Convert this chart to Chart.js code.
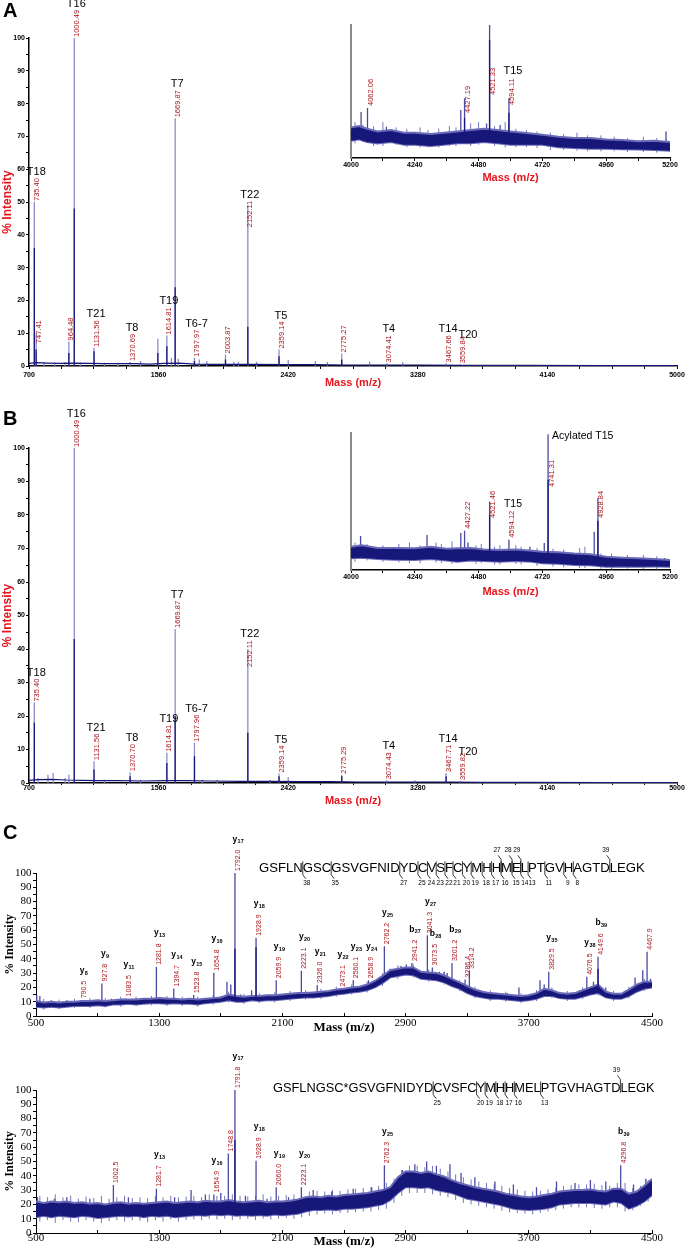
<!DOCTYPE html>
<html>
<head>
<meta charset="utf-8">
<script src="https://cdn.jsdelivr.net/npm/chart.js@4.4.1/dist/chart.umd.min.js"></script>
<style>
  body { margin: 0; background: #fff; }
  #page { position: relative; width: 687px; height: 1250px; overflow: hidden; background: #fff; }
  canvas, .lt { position: absolute; }
  .lt { font: bold 20px Arial, "Liberation Sans", sans-serif; line-height: 20px; }
</style>
</head>
<body>
<div id="page">
  <canvas id="cA" width="687" height="392" style="left:0;top:0"></canvas>
  <canvas id="cB" width="687" height="412" style="left:0;top:400px"></canvas>
  <canvas id="cC1" width="687" height="210" style="left:0;top:826px"></canvas>
  <canvas id="cC2" width="687" height="205" style="left:0;top:1045px"></canvas>
  <canvas id="cAi" width="357" height="180" style="left:330px;top:10px"></canvas>
  <canvas id="cBi" width="357" height="185" style="left:330px;top:415px"></canvas>
  <div class="lt" style="left:3px;top:0">A</div>
  <div class="lt" style="left:3px;top:408px">B</div>
  <div class="lt" style="left:3px;top:822px">C</div>
</div>
<script>
// ---- panel A, full range ----
var aMass = [735.40, 747.41, 800, 870, 940, 964.48, 1000.49, 1040, 1131.56, 1200, 1290, 1370.69, 1440, 1555, 1614.81, 1645, 1669.87, 1690, 1797.97, 1830, 1880, 2003.87, 2060, 2090, 2152.11, 2210, 2359.14, 2420, 2600, 2680, 2775.27, 2960, 3074.41, 3180, 3467.66, 3559.84];
var aTop  = [50, 10, 1.2, 1.0, 1.2, 7.5, 100, 1.0, 5.5, 1.0, 0.8, 1.2, 1.5, 8.3, 9.3, 2.5, 75.5, 2.2, 2.5, 2.0, 1.5, 3.5, 1.3, 1.3, 49, 1.3, 5, 1.8, 1.5, 1.3, 3.8, 1.4, 0.8, 1.2, 0.8, 0.5];
var aCore = [36, 5, 0, 0, 0, 4, 48, 0, 4.5, 0, 0, 0, 0, 4, 6, 0, 24, 0, 1.5, 0, 0, 2, 0, 0, 12, 0, 3, 0, 0, 0, 2, 0, 0, 0, 0, 0];
var aBaseM = [700, 750, 820, 900, 1000, 1100, 1200, 1300, 1400, 1500, 1600, 1700, 1800, 1900, 2000, 2200, 2400, 2600, 2800, 3000, 3300, 3600, 4000, 4500, 5000];
var aBaseV = [0.8, 1.0, 0.9, 0.8, 0.9, 0.8, 0.7, 0.7, 0.7, 0.6, 0.8, 0.9, 0.6, 0.5, 0.5, 0.5, 0.4, 0.4, 0.3, 0.3, 0.3, 0.2, 0.2, 0.1, 0.1];
var aLblMass = [735.40, 747.41, 964.48, 1000.49, 1131.56, 1370.69, 1614.81, 1669.87, 1797.97, 2003.87, 2152.11, 2359.14, 2775.27, 3074.41, 3467.66, 3559.84];
var aLblTag  = ['T18', '', '', 'T16', 'T21', 'T8', 'T19', 'T7', 'T6-7', '', 'T22', 'T5', '', 'T4', 'T14', 'T20'];

// ---- panel A, inset 4000-5200 ----
var aiMass = [4038, 4062.06, 4133, 4413, 4427.19, 4510, 4521.33, 4561, 4594.11, 5185];
var aiTop  = [34.6, 37.6, 23.5, 36, 45, 26, 100, 24.8, 45, 20];
var aiFoot = [16, 16, 15, 15, 15, 16, 16, 15, 15, 9];
var aiCore = [0, 0, 0, 0, 30, 0, 88.7, 0, 34, 0];
var aiBandM  = [4000, 4030, 4060, 4100, 4150, 4200, 4240, 4300, 4350, 4400, 4450, 4500, 4550, 4600, 4650, 4720, 4780, 4840, 4900, 4960, 5020, 5080, 5140, 5200];
var aiBandLo = [13, 14, 12, 11, 12, 10, 10, 9, 10, 11, 11, 12, 11, 10, 10, 10, 8, 7.5, 7, 7, 6.5, 6.3, 6, 5.5];
var aiBandHi = [23, 24, 22, 20, 21, 19, 19, 18, 19, 20, 21, 22, 21, 20, 19, 17.5, 16, 15, 15, 14, 13.5, 12.6, 13, 12];
var aiNoiseM  = [4015, 4045, 4085, 4120, 4170, 4210, 4260, 4290, 4330, 4370, 4395, 4450, 4480, 4540, 4580, 4620, 4660, 4700, 4750, 4800, 4850, 4890, 4940, 4990, 5040, 5100, 5150];
var aiNoiseLo = [11, 12, 9, 9, 10, 8, 8, 8, 8, 9, 9, 9, 10, 9, 8, 8, 8, 7.5, 6, 6, 5.5, 5, 5, 5, 4.5, 4.5, 4];
var aiNoiseHi = [27, 25, 24, 27, 23, 22, 23, 21, 22, 24, 23, 26, 27, 24, 27, 22, 21, 20, 19, 18, 19, 17, 17, 16, 15, 16, 15];
var aiLblMass = [4062.06, 4427.19, 4521.33, 4594.11];
var aiLblTag  = ['', '', '', 'T15'];

// ---- panel B, full range ----
var bMass = [735.40, 760, 826, 860, 940, 965, 1000.49, 1131.56, 1200, 1370.70, 1440, 1614.81, 1669.87, 1797.96, 1850, 1950, 2152.11, 2300, 2359.14, 2420, 2775.29, 3074.43, 3260, 3467.71, 3559.82];
var bTop  = [24, 1.5, 2.5, 3, 1.5, 2.5, 100, 6.5, 1, 3.2, 1, 9, 46, 12, 1, 1, 40, 1, 2.8, 1.8, 2.5, 0.8, 0.8, 3, 0.6];
var bCore = [18, 0, 0, 0, 0, 0, 43, 4, 0, 2, 0, 6, 20, 8, 0, 0, 15, 0, 2, 0, 2, 0, 0, 2, 0];
var bBaseM = [700, 760, 850, 950, 1050, 1150, 1300, 1450, 1600, 1750, 1900, 2100, 2300, 2500, 2700, 2900, 3100, 3300, 3500, 3700, 4000, 4500, 5000];
var bBaseV = [0.8, 1.0, 1.1, 0.9, 0.8, 0.7, 0.7, 0.6, 0.7, 0.7, 0.6, 0.5, 0.5, 0.4, 0.4, 0.3, 0.3, 0.3, 0.3, 0.2, 0.2, 0.1, 0.1];
var bLblMass = [735.40, 1000.49, 1131.56, 1370.70, 1614.81, 1669.87, 1797.96, 2152.11, 2359.14, 2775.29, 3074.43, 3467.71, 3559.82];
var bLblTag  = ['T18', 'T16', 'T21', 'T8', 'T19', 'T7', 'T6-7', 'T22', 'T5', '', 'T4', 'T14', 'T20'];

// ---- panel B, inset 4000-5200 ----
var biMass = [4036, 4286, 4413, 4427.22, 4440, 4521.46, 4594.12, 4673, 4727, 4741.31, 4915, 4928.84, 5180];
var biTop  = [24.8, 25.5, 27, 28.7, 20, 50, 22, 17, 19.7, 99, 28, 52.5, 8.7];
var biFoot = [12, 12, 11, 11, 11, 11, 10, 10, 9, 9, 8, 8, 5];
var biCore = [0, 0, 0, 0, 0, 40, 0, 0, 0, 65.7, 0, 36, 0];
var biBandM  = [4000, 4040, 4100, 4160, 4240, 4300, 4360, 4400, 4450, 4500, 4560, 4620, 4680, 4720, 4780, 4840, 4900, 4960, 5020, 5080, 5140, 5200];
var biBandLo = [8.5, 9, 8, 7.5, 7.3, 8, 7, 6, 7, 6.5, 6, 6.5, 6, 4.9, 4.5, 3.6, 3.5, 2.4, 2.6, 2.4, 2.5, 2.4];
var biBandHi = [17, 18, 16, 16, 15.8, 17, 15.5, 15.8, 16, 15, 14.6, 15, 14, 13.4, 13, 12, 11.5, 9.7, 9, 8.5, 8, 7.3];
var biNoiseM  = [4015, 4060, 4120, 4180, 4220, 4260, 4320, 4340, 4380, 4470, 4490, 4540, 4560, 4620, 4640, 4700, 4760, 4800, 4860, 4880, 4940, 4980, 5040, 5100, 5150];
var biNoiseLo = [6, 7, 6, 5.5, 5, 5, 5.5, 5, 4.5, 4.5, 5, 4, 4, 4.5, 4, 3, 2.5, 2, 1.5, 1.5, 1, 0.5, 1, 0.5, 0.5];
var biNoiseHi = [20, 19, 18, 19, 20, 18, 20, 19, 21, 18, 19, 17, 18, 18, 17, 16, 15.5, 15, 16, 17, 12, 12, 11, 11, 10];
var biLblMass = [4427.22, 4521.46, 4594.12, 4741.31, 4928.84];
var biLblTag  = ['', '', 'T15', 'Acylated T15', ''];

// ---- panel C, MS/MS of native peptide ----
var cMass = [505, 525, 600, 700, 790.5, 850, 927.8, 990, 1083.5, 1150, 1240, 1281.8, 1340, 1394.7, 1460, 1523.8, 1580, 1654.8, 1700, 1740, 1765, 1792.0, 1830, 1900, 1928.9, 1990, 2059.9, 2180, 2223.1, 2260, 2326.0, 2400, 2473.1, 2530, 2560.1, 2620, 2658.9, 2720, 2762.2, 2800, 2870, 2905, 2941.2, 2990, 3041.3, 3073.5, 3120, 3150, 3170, 3201.2, 3240, 3286.4, 3314.2, 3400, 3480, 3560, 3636, 3700, 3773, 3800, 3829.5, 3900, 3960, 4030, 4076.5, 4120, 4149.6, 4200, 4260, 4330, 4390, 4440, 4467.9, 4490];
var cTop  = [14.6, 14, 11, 11, 11, 11, 22.8, 12, 12.3, 12, 12, 34.4, 13, 19.3, 12, 14.6, 12, 30.2, 14, 24, 22, 100, 15, 18, 54.7, 14, 25, 16, 31.6, 17, 21.6, 17, 19.3, 19, 25, 21, 25, 25, 48.8, 33, 35, 36, 37, 32, 56.5, 34, 31, 31, 30, 37, 22, 25.6, 31.6, 17, 16, 16, 20, 15, 25, 22, 31, 17, 16, 18, 27.4, 24, 41.4, 20, 16, 18, 27, 32, 45, 26];
var cFoot = [8, 8, 7, 7.5, 8, 8, 9, 9, 9.5, 9.5, 10, 10, 10, 10, 10, 10, 10.5, 11, 11, 12, 12, 12, 12, 12, 12, 12.5, 13, 13.5, 14, 14, 14.5, 15, 16, 17, 17, 18, 19, 22, 25, 28, 30, 30, 30, 27, 27, 27, 25, 24, 23, 22, 19, 17, 16, 13, 12, 12, 12, 12, 13, 14, 15, 13, 13, 14, 15, 16, 17, 14, 13, 14, 17, 19, 20, 20];
var cCoreMass = [1792.0, 1928.9, 4149.6];
var cCoreTop  = [47, 48, 33];
var cCoreFoot = [12, 12, 17];
var cBandM  = [500, 550, 600, 650, 700, 750, 800, 850, 900, 950, 1000, 1050, 1100, 1150, 1200, 1250, 1300, 1350, 1400, 1450, 1500, 1550, 1600, 1650, 1700, 1750, 1800, 1850, 1900, 1950, 2000, 2050, 2100, 2150, 2200, 2250, 2300, 2350, 2400, 2450, 2500, 2550, 2600, 2650, 2700, 2750, 2800, 2850, 2900, 2950, 3000, 3050, 3100, 3150, 3200, 3250, 3300, 3350, 3400, 3450, 3500, 3550, 3600, 3650, 3700, 3750, 3800, 3850, 3900, 3950, 4000, 4050, 4100, 4150, 4200, 4250, 4300, 4350, 4400, 4450, 4500];
var cBandLo = [6.5, 6, 6.5, 6, 6.5, 7, 7, 7, 7.5, 7, 8, 8, 8.5, 8, 8.5, 9, 9, 8.5, 9, 8.5, 8.5, 8, 9, 9.5, 10, 11, 10, 10, 11, 10.5, 11, 11, 11.5, 12, 12.5, 13, 13, 13.5, 14, 15, 15.5, 16.5, 17, 18, 20, 23, 27, 28, 29, 28.5, 26, 25.5, 25, 23.5, 21, 19, 16, 14, 13, 12, 12, 11.5, 11, 10.5, 11, 12, 14, 14, 12.5, 12, 12, 13.5, 15, 16, 13, 12, 12, 14, 17, 19, 20];
var cBandHi = [10.5, 9.5, 10, 9.5, 10, 10, 10.5, 10.5, 11, 10.5, 11, 11.5, 11.5, 11.5, 12, 12, 12.5, 12, 12, 11.5, 12, 11.5, 12, 12.5, 13, 15, 14, 13.5, 14, 14, 14.5, 14.5, 15, 15.5, 16, 16, 16.5, 17, 17.5, 18.5, 19, 20, 20.5, 22, 24.5, 28, 32, 33, 34, 34, 31, 30.5, 30, 28.5, 26, 23.5, 21, 18.5, 17, 16, 15.5, 15, 14.5, 14, 14.5, 16, 19, 18, 16, 15.5, 16, 18, 20, 22, 17, 15.5, 15.5, 18.5, 22, 24, 24];
var cNoiseM  = [550, 650, 750, 850, 950, 1050, 1150, 1250, 1350, 1450, 1550, 1650, 1750, 1850, 1950, 2050, 2150, 2250, 2350, 2450, 2550, 2650, 2750, 2850, 2950, 3050, 3150, 3250, 3350, 3450, 3550, 3650, 3750, 3850, 3950, 4050, 4150, 4250, 4350, 4450];
var cNoiseLo = [4.5, 5, 5.5, 5.5, 6, 6.5, 7, 7.5, 7, 7, 6.5, 8, 9.5, 8.5, 9, 9.5, 10.5, 11.5, 12, 13.5, 15, 16.5, 21, 26, 27, 24, 22, 17.5, 12.5, 10.5, 10, 9, 10.5, 12.5, 10.5, 12, 14.5, 10.5, 12.5, 17.5];
var cNoiseHi = [12, 11.5, 12, 12.5, 12.5, 13.5, 13.5, 14, 14, 13.5, 13.5, 14.5, 17, 15.5, 16, 16.5, 17.5, 18, 19, 20.5, 22, 24, 30, 35.5, 36, 32.5, 30.5, 25, 20.5, 18, 17, 16, 18, 20, 17.5, 20, 24, 17.5, 20.5, 26];
var cLblMass = [790.5, 927.8, 1083.5, 1281.8, 1394.7, 1523.8, 1654.8, 1792.0, 1928.9, 2059.9, 2223.1, 2326.0, 2473.1, 2560.1, 2658.9, 2762.2, 2941.2, 3041.3, 3073.5, 3201.2, 3286.4, 3314.2, 3829.5, 4076.5, 4149.6, 4467.9];
var cLblTag  = ['y8', 'y9', 'y11', 'y13', 'y14', 'y15', 'y16', 'y17', 'y18', 'y19', 'y20', 'y21', 'y22', 'y23', 'y24', 'y25', 'b27', 'y27', 'b28', 'b29', '', '', 'y35', 'y38', 'b39', ''];
var cSeq  = 'GSFLNGSCGSVGFNIDYDCVSFCYMHHMELPTGVHAGTDLEGK'.split('');
var cSeqY = [38, 35, 27, 25, 24, 23, 22, 21, 20, 19, 18, 17, 16, 15, 14, 13, 11, 9, 8];
var cSeqB = [27, 28, 29, 39];

// ---- panel C, MS/MS of acylated peptide ----
var dMass = [510, 620, 700, 850, 1002.5, 1100, 1281.7, 1400, 1507, 1600, 1654.9, 1700, 1748.8, 1791.8, 1860, 1928.9, 2000, 2060.0, 2140, 2223.1, 2300, 2420, 2560, 2680, 2762.3, 2880, 2960, 3037, 3100, 3188, 3260, 3350, 3480, 3600, 3750, 3880, 4000, 4100, 4200, 4296.8, 4380, 4460];
var dTop  = [25, 24, 25, 24, 33.5, 25, 31, 25, 30, 27, 27, 28, 55.6, 100, 26, 50.5, 24, 32, 25, 32, 30, 29, 31, 32, 47.4, 44, 48, 50, 47, 48, 42, 39, 36, 34, 32, 36, 35, 37, 36, 47.4, 34, 38];
var dFoot = [17, 16, 16, 16, 17, 16, 16, 16, 17, 17, 17, 18, 18, 18, 17, 18, 17, 18, 18, 18, 20, 21, 22, 23, 25, 37, 37, 37, 35, 33, 30, 27, 25, 22, 21, 24, 25, 25, 25, 28, 22, 30];
var dCoreMass = [1791.8];
var dCoreTop  = [65];
var dCoreFoot = [18];
var dBandM  = cBandM;
var dBandLo = [11, 12, 11, 12, 11.5, 11, 12, 11.5, 10.5, 11, 11.5, 12, 11.5, 12, 11, 12, 11.5, 12, 11, 11.5, 12, 12.5, 12, 13, 12.5, 13, 12, 12.5, 12, 12.5, 12, 13, 12.5, 13, 13.5, 15, 16, 16, 16.5, 16, 17, 17, 17.5, 18, 19, 20, 23, 28, 32, 32, 31.5, 32, 30, 29, 28, 26, 24, 23, 22, 21, 20, 18.5, 17, 16.5, 16, 16.5, 17, 18, 20, 20.5, 21, 21, 21, 20.5, 20, 22, 21, 17, 19, 22, 26.5];
var dBandHi = [22, 21, 22, 21.5, 22, 21, 21.5, 20.5, 21, 20, 21, 21.5, 20.5, 21, 20.5, 21, 21.5, 22, 21, 21.5, 22, 21.5, 22.5, 22, 22, 23, 22, 21.5, 22, 22.5, 21.5, 22, 22, 22.5, 23.5, 25, 25.5, 25, 26, 25.5, 26.5, 27, 27.5, 28, 29, 30, 32, 39, 43, 43, 42, 43, 41, 39.5, 37, 35, 33.5, 32, 31, 30, 29, 27.5, 26.5, 25.5, 25, 25.5, 26.5, 27.5, 29, 29.5, 30, 30, 30.5, 29.5, 29, 31, 31, 27.5, 29, 33, 37.7];
var dNoiseM  = [525, 575, 625, 675, 725, 775, 825, 875, 925, 975, 1025, 1075, 1125, 1175, 1225, 1275, 1325, 1375, 1425, 1475, 1525, 1575, 1625, 1675, 1725, 1775, 1825, 1875, 1925, 1975, 2025, 2075, 2125, 2175, 2225, 2275, 2325, 2375, 2425, 2475, 2525, 2575, 2625, 2675, 2725, 2775, 2825, 2875, 2925, 2975, 3025, 3075, 3125, 3175, 3225, 3275, 3325, 3375, 3425, 3475, 3525, 3575, 3625, 3675, 3725, 3775, 3825, 3875, 3925, 3975, 4025, 4075, 4125, 4175, 4225, 4275, 4325, 4375, 4425, 4475];
var dNoiseLo = [8, 9, 7, 9, 8, 7.5, 9, 8, 7, 8.5, 9, 8, 9, 8.5, 7.5, 9, 8, 9.5, 8, 9, 9.5, 9, 10, 9.5, 10, 9, 9.5, 10, 9, 10, 9.5, 10, 10.5, 10, 11, 12, 13, 13.5, 13, 14, 14, 14.5, 15, 15, 16, 17, 21, 26, 28, 28, 28, 27, 26, 25, 23, 21, 20, 19, 18, 17, 15.5, 14.5, 14, 13.5, 13, 14, 15, 16, 17, 18, 18, 18, 17.5, 17, 18, 18, 15, 16, 19, 22];
var dNoiseHi = [26, 25, 27, 25, 26, 24, 25.5, 24.5, 26, 24, 25, 26, 24.5, 25, 24.5, 26, 25, 26, 25, 25.5, 26, 25, 27, 26, 26, 27, 26, 25.5, 26, 27, 25.5, 26, 26.5, 27, 28, 29, 29.5, 29, 30, 29.5, 30.5, 31, 31.5, 32, 33, 35, 38, 44, 47, 47, 46, 47, 45, 43, 41, 39, 37.5, 36, 35, 34, 33, 31.5, 30.5, 29.5, 29, 29.5, 30.5, 31.5, 33, 33.5, 34, 34, 34.5, 33.5, 33, 35, 35, 31.5, 33, 37];
var dLblMass = [1002.5, 1281.7, 1654.9, 1748.8, 1791.8, 1928.9, 2060.0, 2223.1, 2762.3, 4296.8];
var dLblTag  = ['', 'y13', 'y16', '', 'y17', 'y18', 'y19', 'y20', 'y25', 'b39'];
var dSeq  = 'GSFLNGS'.split('').concat(['C*']).concat('GSVGFNIDYDCVSFCYMHHMELPTGVHAGTDLEGK'.split(''));
var dSeqY = [25, 20, 19, 18, 17, 16, 13];
var dSeqB = [39];

var SANS = 'Arial, "Liberation Sans", sans-serif';
var SERIF = '"Times New Roman", "Liberation Serif", serif';
var NAVY = '#17177a', LAV = '#8e8ecb', MID = '#4a4aa2', EDGE = '#6a6ab8', HAIR = '#7676bf', RED = '#e5161d', DRED = '#a8151c';

function pairs(xs, ys) {
  return xs.map(function (x, i) { return {x: x, y: ys[i]}; });
}
// one vertical stick per peak, broken apart by a null point
function sticks(mass, top, foot) {
  var pts = [];
  for (var i = 0; i < mass.length; i++) {
    var f = Array.isArray(foot) ? foot[i] : foot;
    if (!(top[i] > f)) continue;
    pts.push({x: mass[i], y: f}, {x: mass[i], y: top[i]}, {x: mass[i], y: null});
  }
  return pts;
}
function traceSets(o) {
  var sets = [];
  if (o.bandM) {
    sets.push({data: pairs(o.bandM, o.bandLo), borderColor: EDGE, borderWidth: 2, fill: false, order: 2});
    sets.push({data: pairs(o.bandM, o.bandHi), borderColor: EDGE, borderWidth: 2, backgroundColor: NAVY, fill: '-1', order: 1});
  }
  if (o.noiseM) sets.push({data: sticks(o.noiseM, o.noiseHi, o.noiseLo), borderColor: HAIR, borderWidth: 1, fill: false, spanGaps: false, order: 4});
  if (o.baseM) sets.push({data: pairs(o.baseM, o.baseV), borderColor: NAVY, borderWidth: 1.2, fill: false, order: 2});
  sets.push({data: sticks(o.m, o.top, o.foot), borderColor: o.stick, borderWidth: 1.3, fill: false, spanGaps: false, order: 3});
  sets.push({data: sticks(o.coreM, o.coreTop, o.coreFoot), borderColor: NAVY, borderWidth: 1.3, fill: false, spanGaps: false, order: 0});
  return sets;
}

var annots = {};
var seqs = {};

function ionTag(ctx, tag, cx, cy) {
  var l = tag.charAt(0), n = tag.slice(1);
  ctx.font = 'bold 8.5px ' + SANS; var w1 = ctx.measureText(l).width;
  ctx.font = 'bold 5.5px ' + SANS; var w2 = ctx.measureText(n).width;
  var x0 = cx - (w1 + w2) / 2;
  ctx.fillStyle = '#000'; ctx.textAlign = 'left'; ctx.textBaseline = 'alphabetic';
  ctx.font = 'bold 8.5px ' + SANS; ctx.fillText(l, x0, cy + 2);
  ctx.font = 'bold 5.5px ' + SANS; ctx.fillText(n, x0 + w1 + 0.3, cy + 3.8);
}

var peakText = {
  id: 'peakText',
  afterDraw: function (chart) {
    var a = annots[chart.canvas.id];
    if (!a) return;
    var ctx = chart.ctx, area = chart.chartArea, xs = chart.scales.x, ys = chart.scales.y;
    ctx.save();
    a.lblM.forEach(function (m, i) {
      var txt = m.toFixed(a.dec);
      var px = xs.getPixelForValue(m);
      var py = ys.getPixelForValue(a.top[a.m.indexOf(m)]);
      var yb = py - a.gap;
      if (a.minDrop) yb = Math.max(yb, area.top + a.minDrop);
      yb += (a.shift && a.shift[txt]) || 0;
      ctx.font = a.font;
      var w = ctx.measureText(txt).width;
      ctx.fillStyle = DRED;
      ctx.save();
      ctx.translate(px + a.dx, yb);
      ctx.rotate(-Math.PI / 2);
      ctx.textAlign = 'left'; ctx.textBaseline = 'middle';
      ctx.fillText(txt, 0, 0);
      ctx.restore();
      var tag = a.tags[i];
      if (!tag) return;
      if (a.beside && a.beside.indexOf(tag) >= 0) {
        ctx.font = a.tagFont; ctx.fillStyle = '#000';
        ctx.textAlign = 'left'; ctx.textBaseline = 'middle';
        ctx.fillText(tag, px + 4, py + 2);
        return;
      }
      var nd = (a.nudge && a.nudge[tag]) || [0, 0];
      var cx = px + a.tagDx + nd[0], cy = yb - w - a.tagGap + nd[1];
      if (a.ion) { ionTag(ctx, tag, cx, cy); return; }
      ctx.font = a.tagFont; ctx.fillStyle = '#000';
      ctx.textAlign = 'center'; ctx.textBaseline = 'middle';
      ctx.fillText(tag, cx, cy);
    });
    ctx.restore();
  }
};

// peptide sequence with fragment brackets
var seqText = {
  id: 'seqText',
  afterDraw: function (chart) {
    var s = seqs[chart.canvas.id];
    if (!s) return;
    var ctx = chart.ctx;
    ctx.save();
    var text = s.res.join('');
    ctx.font = '13px ' + SANS;
    var size = 13 * (s.x1 - s.x0) / ctx.measureText(text).width;
    ctx.font = size + 'px ' + SANS;
    var base = s.mid + size * 0.358, capTop = base - size * 0.716;
    var L = s.res.length;
    function cut(k) { return s.x0 + ctx.measureText(s.res.slice(0, k).join('')).width; }
    var yc = s.y.map(function (n) { return cut(L - n); });
    var bc = s.b.map(function (n) { return cut(n); });
    ctx.fillStyle = '#000'; ctx.textAlign = 'left'; ctx.textBaseline = 'alphabetic';
    ctx.fillText(text, s.x0, base);
    ctx.strokeStyle = '#000'; ctx.lineWidth = 0.8;
    ctx.beginPath();
    yc.forEach(function (x) { ctx.moveTo(x, capTop - 1); ctx.lineTo(x, base + 3); ctx.lineTo(x + 3, base + 7); });
    bc.forEach(function (x) { ctx.moveTo(x, base + 1); ctx.lineTo(x, capTop - 3); ctx.lineTo(x - 3, capTop - 7); });
    ctx.stroke();
    ctx.font = '6.5px ' + SANS; ctx.textAlign = 'center'; ctx.textBaseline = 'middle';
    yc.forEach(function (x, i) { ctx.fillText(String(s.y[i]), x + 4, base + 12); });
    bc.forEach(function (x, i) { ctx.fillText(String(s.b[i]), x - 4, capTop - 12); });
    ctx.restore();
  }
};

function spectrum(id, c) {
  var xt = [], yt = [], v;
  for (v = c.x[0]; v <= c.x[1]; v += c.x[2]) xt.push(v);
  if (c.y[2] > 0) for (v = c.y[0]; v <= c.y[1]; v += c.y[2]) yt.push(v);
  var yScale = c.yHidden ? {
    min: c.y[0], max: c.y[1],
    afterFit: function (s) { s.width = c.yW; },
    ticks: {display: false},
    grid: {display: false},
    border: {color: '#8a8a8a', width: 2}
  } : {
    min: c.y[0], max: c.y[1],
    afterBuildTicks: function (s) { s.ticks = yt.map(function (t) { return {value: t}; }); },
    afterFit: function (s) { s.width = c.yW; },
    ticks: {autoSkip: false, padding: c.yTickPad, color: '#000', font: c.font,
            callback: function (t) { return t % c.y[3] === 0 ? String(t) : ''; }},
    grid: {drawOnChartArea: false, tickLength: 3, color: '#000', lineWidth: 1},
    border: {color: '#000', width: c.bw},
    title: {display: true, text: '% Intensity', color: c.titleColor, font: c.yTitleFont, padding: {top: c.yTitlePad, bottom: 0}}
  };
  return new Chart(document.getElementById(id), {
    type: 'line',
    data: {datasets: c.sets},
    options: {
      responsive: false,
      animation: false,
      devicePixelRatio: 1,
      layout: {padding: c.pad},
      elements: {point: {radius: 0}, line: {tension: 0}},
      plugins: {legend: {display: false}, tooltip: {enabled: false}},
      scales: {
        x: {
          type: 'linear', min: c.x[0], max: c.x[1],
          afterBuildTicks: function (s) { s.ticks = xt.map(function (t) { return {value: t}; }); },
          afterFit: function (s) { s.height = c.xH; },
          ticks: {autoSkip: false, maxRotation: 0, padding: c.xTickPad, color: '#000', font: c.font,
                  callback: function (t) { return (t - c.x[0]) % c.x[3] === 0 ? String(t) : ''; }},
          grid: {drawOnChartArea: false, tickLength: c.xTickLen, color: '#000', lineWidth: 1},
          border: {color: '#000', width: c.bw},
          title: {display: true, text: 'Mass (m/z)', color: c.titleColor, font: c.xTitleFont, padding: {top: 0, bottom: c.xTitlePad}}
        },
        y: yScale
      }
    },
    plugins: [peakText, seqText]
  });
}

var smallBold = {family: SANS, size: 7, weight: 'bold'};
var redTitleX = {family: SANS, size: 11, weight: 'bold'};
var redTitleY = {family: SANS, size: 12, weight: 'bold'};
var serifTick = {family: SERIF, size: 11};

annots.cA = {m: aMass, top: aTop, lblM: aLblMass, tags: aLblTag, dec: 2, font: '7.5px ' + SANS, gap: 1, dx: 2.5,
  tagFont: '11px ' + SANS, tagGap: 6, tagDx: 2, shift: {'2152.11': 23, '747.41': 11}, nudge: {T20: [6, 5]}};
annots.cAi = {m: aiMass, top: aiTop, lblM: aiLblMass, tags: aiLblTag, dec: 2, font: '7.5px ' + SANS, gap: 2, dx: 3.5,
  minDrop: 80, shift: {'4521.33': -10, '4427.19': 8}, tagFont: '11px ' + SANS, tagGap: 7, tagDx: 4};
annots.cB = {m: bMass, top: bTop, lblM: bLblMass, tags: bLblTag, dec: 2, font: '7.5px ' + SANS, gap: 1, dx: 2.5,
  tagFont: '11px ' + SANS, tagGap: 6, tagDx: 2, shift: {'2152.11': 19}, nudge: {T20: [6, 5]}};
annots.cBi = {m: biMass, top: biTop, lblM: biLblMass, tags: biLblTag, dec: 2, font: '7.5px ' + SANS, gap: 2, dx: 3.5,
  minDrop: 70, shift: {'4741.31': -16, '4521.46': 15, '4928.84': 15}, beside: ['Acylated T15'],
  tagFont: '10.5px ' + SANS, tagGap: 7, tagDx: 4};
annots.cC1 = {m: cMass, top: cTop, lblM: cLblMass, tags: cLblTag, dec: 1, font: '7px ' + SANS, gap: 2, dx: 3,
  ion: true, tagGap: 10, tagDx: 3};
annots.cC2 = {m: dMass, top: dTop, lblM: dLblMass, tags: dLblTag, dec: 1, font: '7px ' + SANS, gap: 2, dx: 3,
  ion: true, tagGap: 10, tagDx: 3};
seqs.cC1 = {res: cSeq, y: cSeqY, b: cSeqB, x0: 259, x1: 645, mid: 41};
seqs.cC2 = {res: dSeq, y: dSeqY, b: dSeqB, x0: 273, x1: 655, mid: 42};

spectrum('cA', {
  x: [700, 5000, 215, 860], y: [0, 100, 5, 10],
  pad: {left: 0, right: 10, top: 38, bottom: 0}, yW: 29, xH: 26,
  font: smallBold, xTickLen: 3, xTickPad: 2, yTickPad: 1, bw: 1.5,
  titleColor: RED, xTitleFont: redTitleX, xTitlePad: 2, yTitleFont: redTitleY, yTitlePad: 0,
  sets: traceSets({m: aMass, top: aTop, foot: 0, coreM: aMass, coreTop: aCore, coreFoot: 0,
                   baseM: aBaseM, baseV: aBaseV, stick: LAV})
});
spectrum('cAi', {
  x: [4000, 5200, 120, 240], y: [0, 100, 0, 0], yHidden: true,
  pad: {left: 0, right: 17, top: 15, bottom: 0}, yW: 21, xH: 32,
  font: smallBold, xTickLen: 3, xTickPad: 0, bw: 1.5,
  titleColor: RED, xTitleFont: redTitleX, xTitlePad: 5.4,
  sets: traceSets({m: aiMass, top: aiTop, foot: aiFoot, coreM: aiMass, coreTop: aiCore, coreFoot: aiFoot,
                   bandM: aiBandM, bandLo: aiBandLo, bandHi: aiBandHi,
                   noiseM: aiNoiseM, noiseLo: aiNoiseLo, noiseHi: aiNoiseHi, stick: MID})
});
spectrum('cB', {
  x: [700, 5000, 215, 860], y: [0, 100, 5, 10],
  pad: {left: 0, right: 10, top: 48, bottom: 0}, yW: 29, xH: 29,
  font: smallBold, xTickLen: 2, xTickPad: -1, yTickPad: 1, bw: 1.5,
  titleColor: RED, xTitleFont: redTitleX, xTitlePad: 4.4, yTitleFont: redTitleY, yTitlePad: 0,
  sets: traceSets({m: bMass, top: bTop, foot: 0, coreM: bMass, coreTop: bCore, coreFoot: 0,
                   baseM: bBaseM, baseV: bBaseV, stick: LAV})
});
spectrum('cBi', {
  x: [4000, 5200, 120, 240], y: [0, 100, 0, 0], yHidden: true,
  pad: {left: 0, right: 17, top: 18, bottom: 0}, yW: 21, xH: 30,
  font: smallBold, xTickLen: 3, xTickPad: 0, bw: 1.5,
  titleColor: RED, xTitleFont: redTitleX, xTitlePad: 1.9,
  sets: traceSets({m: biMass, top: biTop, foot: biFoot, coreM: biMass, coreTop: biCore, coreFoot: biFoot,
                   bandM: biBandM, bandLo: biBandLo, bandHi: biBandHi,
                   noiseM: biNoiseM, noiseLo: biNoiseLo, noiseHi: biNoiseHi, stick: MID})
});
spectrum('cC1', {
  x: [500, 4500, 400, 800], y: [0, 100, 5, 10],
  pad: {left: 0, right: 35, top: 47, bottom: 0}, yW: 36, xH: 20,
  font: serifTick, xTickLen: -3, xTickPad: 3.4, yTickPad: 1.5, bw: 1,
  titleColor: '#000', xTitleFont: {family: SERIF, size: 13, weight: 'bold'}, xTitlePad: 0.2,
  yTitleFont: {family: SERIF, size: 12, weight: 'bold'}, yTitlePad: 3,
  sets: traceSets({m: cMass, top: cTop, foot: cFoot, coreM: cCoreMass, coreTop: cCoreTop, coreFoot: cCoreFoot,
                   bandM: cBandM, bandLo: cBandLo, bandHi: cBandHi,
                   noiseM: cNoiseM, noiseLo: cNoiseLo, noiseHi: cNoiseHi, stick: MID})
});
spectrum('cC2', {
  x: [500, 4500, 400, 800], y: [0, 100, 5, 10],
  pad: {left: 0, right: 35, top: 45, bottom: 0}, yW: 36, xH: 17,
  font: serifTick, xTickLen: -3, xTickPad: 2, yTickPad: 1.5, bw: 1,
  titleColor: '#000', xTitleFont: {family: SERIF, size: 13, weight: 'bold'}, xTitlePad: 0.2,
  yTitleFont: {family: SERIF, size: 12, weight: 'bold'}, yTitlePad: 3,
  sets: traceSets({m: dMass, top: dTop, foot: dFoot, coreM: dCoreMass, coreTop: dCoreTop, coreFoot: dCoreFoot,
                   bandM: dBandM, bandLo: dBandLo, bandHi: dBandHi,
                   noiseM: dNoiseM, noiseLo: dNoiseLo, noiseHi: dNoiseHi, stick: MID})
});
</script>
</body>
</html>
